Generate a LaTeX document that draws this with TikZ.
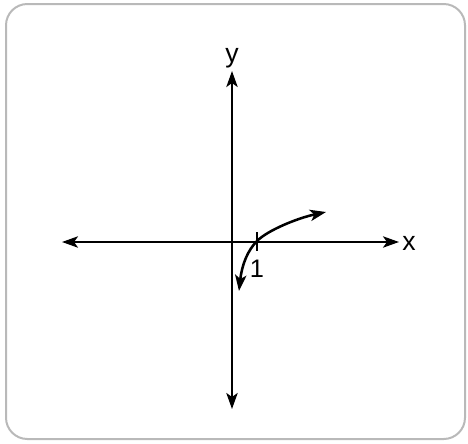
\documentclass[tikz,border=0pt]{standalone}
\usepackage{fontspec}
\setmainfont{Liberation Sans}
\usetikzlibrary{arrows.meta}

\begin{document}
\begin{tikzpicture}[x=0.75pt, y=-0.75pt, >={Stealth[length=12pt, width=8.5pt, inset=3pt]}]
  \useasboundingbox (0,0) rectangle (468,443);
  \draw[gray!55, line width=1.5pt, rounded corners=16pt] (6,4) rectangle (465,439);

  \coordinate (L) at (62,242);
  \coordinate (R) at (399,242);
  \coordinate (T) at (232,71);
  \coordinate (B) at (232,409);
  \coordinate (one) at (257,241);
  \coordinate (P) at (239,291);
  \coordinate (Q) at (326,212);

  \draw[line width=1.7pt, <->] (L) -- (R);
  \draw[line width=1.7pt, <->] (B) -- (T);
  \draw[line width=1.7pt] (257,232) -- (257,251);
  \draw[line width=1.9pt, <->] (P) .. controls (242,264) and (248,250) .. (one)
    .. controls (268,230) and (298,218) .. (Q);

  \node[font=\fontsize{20}{24}\selectfont] (xlab) at (409,243) {x};
  \node[font=\fontsize{20}{24}\selectfont] (ylab) at (232,58) {y};
  \node[font=\fontsize{19}{22}\selectfont] (onelab) at (257,269) {1};
\end{tikzpicture}
\end{document}
